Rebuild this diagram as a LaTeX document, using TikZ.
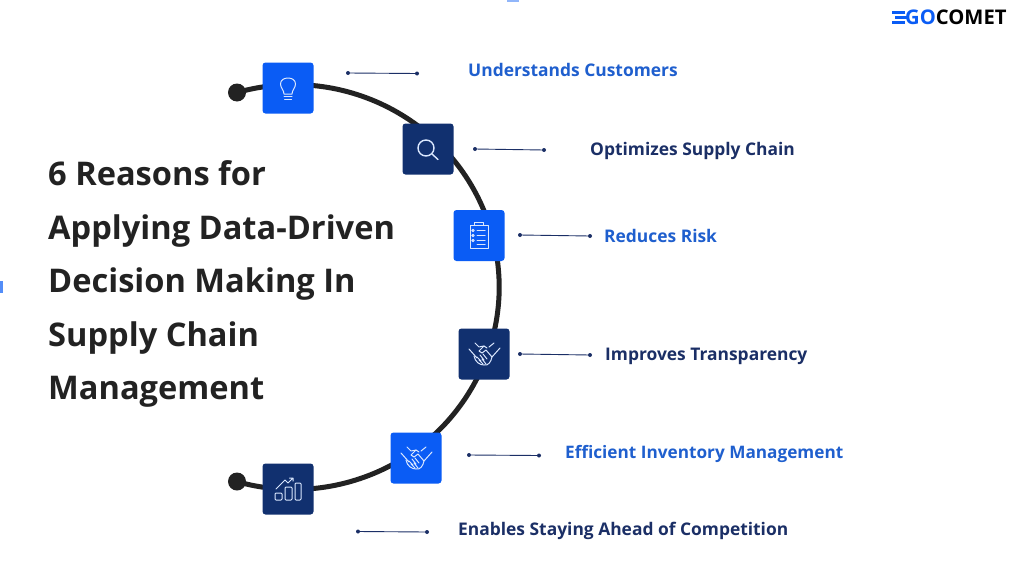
\documentclass[tikz,border=0pt]{standalone}
\usepackage{fontspec}
\setmainfont{Open Sans}
\definecolor{blu}{HTML}{0A5CF5}
\definecolor{nav}{HTML}{11306F}
\definecolor{lblu}{HTML}{1F5FCE}
\definecolor{ldark}{HTML}{1B2F66}
\definecolor{ink}{HTML}{222222}
\tikzset{
 x=1pt,y=-1pt,
 sq/.style={draw=none,minimum size=51pt,inner sep=0pt,rounded corners=3pt},
 sqb/.style={sq,fill=blu},
 sqn/.style={sq,fill=nav},
 ic/.style={draw=white!85!blu,line width=1pt,line join=round,line cap=round},
 dot/.style={circle,fill=ink,minimum size=18pt,inner sep=0pt},
 tick/.style={circle,fill=ldark,minimum size=4pt,inner sep=0pt},
 lead/.style={draw=ldark,line width=0.9pt},
 lab/.style={anchor=base west,font=\fontsize{17.4pt}{19pt}\selectfont\bfseries,inner sep=0pt},
 ttl/.style={anchor=base west,font=\fontsize{32.6pt}{36pt}\selectfont\bfseries,text=ink,inner sep=0pt},
 pics/bulb/.style={code={
  \draw[ic] (-4,6) .. controls (-4,2) and (-7.5,0) .. (-7.5,-4) .. controls (-7.5,-8) and (-4,-10) .. (0,-10) .. controls (4,-10) and (7.5,-8) .. (7.5,-4) .. controls (7.5,0) and (4,2) .. (4,6) -- cycle;
  \draw[ic] (-4,8.5) -- (4,8.5) (-3.5,11) -- (3.5,11);}},
 pics/lens/.style={code={
  \draw[ic,line width=1.4pt] (-2,-1) circle[radius=8];
  \draw[ic,line width=1.4pt] (4,5) -- (10,10.5);}},
 pics/clip/.style={code={
  \draw[ic] (-9,-10) rectangle (9,13);
  \draw[ic] (-4.5,-13) rectangle (4.5,-10);
  \draw[ic] (-2,-5) -- (6,-5) (-2,0) -- (6,0) (-2,5) -- (6,5) (-2,9) -- (6,9);
  \draw[ic] (-6,-5) circle[radius=1.2] (-6,0) circle[radius=1.2] (-6,5) circle[radius=1.2];}},
 pics/shake/.style={code={
  \draw[ic] (-15,-5) -- (-7,4) (16,-6) -- (8,3);
  \draw[ic] (-9,-11) -- (-5,-7) -- (0,-8) -- (3,-6) (10,-11) -- (5,-7);
  \draw[ic] (0,-8) -- (-5,-3) -- (-2,-1) -- (2,-4) -- (8,3) .. controls (7,8) and (4,12) .. (0,11) .. controls (-4,11) and (-9,8) .. (-10,2);
  \draw[ic] (-7,3) -- (-3,7) (-4,1) -- (0,6) (-1,0) -- (3,5) (-5,6) -- (-1,10) (-2,5) -- (2,10);}},
 pics/chart/.style={code={
  \draw[ic,rounded corners=1pt] (-13,4) rectangle (-6,11);
  \draw[ic,rounded corners=1pt] (-3,-2) rectangle (4,11);
  \draw[ic,rounded corners=1pt] (7,-6) rectangle (13,11);
  \draw[ic] (-12,0) -- (-3,-9) -- (0,-6) -- (5,-11) (1.5,-11) -- (5,-11) -- (5,-8);}},
}
\begin{document}
\begin{tikzpicture}
\useasboundingbox[fill=white] (0,0) rectangle (1024,573);
% edge slivers
\fill[blu!70] (0,281) rectangle (2.5,293);
\fill[blu!45] (507,0) rectangle (519,2);
% spine
\node[dot] (top) at (237,92.5) {};
\node[dot] (bot) at (237,481.5) {};
\draw[ink,line width=5pt] (top.center) arc[start angle=-106,end angle=106,x radius=205.5,y radius=202.4];
% icon boxes
\node[sqb] (n1) at (288,88) {};
\node[sqn] (n2) at (428,149) {};
\node[sqb] (n3) at (479,235.5) {};
\node[sqn] (n4) at (484,354) {};
\node[sqb] (n5) at (416,458) {};
\node[sqn] (n6) at (288,489) {};
\pic at (n1) {bulb};
\pic at (n2) {lens};
\pic at (n3) {clip};
\pic at (n4) {shake};
\pic at (n5) {shake};
\pic at (n6) {chart};
% leaders
\node[tick] (a1) at (348,73) {}; \node[tick] (b1) at (417,73.5) {};
\node[tick] (a2) at (475,149) {}; \node[tick] (b2) at (544,150) {};
\node[tick] (a3) at (520,235) {}; \node[tick] (b3) at (590,236) {};
\node[tick] (a4) at (520,354) {}; \node[tick] (b4) at (590,355) {};
\node[tick] (a5) at (469,455) {}; \node[tick] (b5) at (539,455.5) {};
\node[tick] (a6) at (358,531.5) {}; \node[tick] (b6) at (427,532) {};
\foreach \i in {1,...,6} \draw[lead] (a\i) -- (b\i);
% labels
\node[lab,text=lblu] (l1) at (468,76) {Understands Customers};
\node[lab,text=ldark] (l2) at (590,155) {Optimizes Supply Chain};
\node[lab,text=lblu] (l3) at (604,242) {Reduces Risk};
\node[lab,text=ldark] (l4) at (605,360) {Improves Transparency};
\node[lab,text=lblu,font=\fontsize{17.2pt}{19pt}\selectfont\bfseries] (l5) at (565,458) {Efficient Inventory Management};
\node[lab,text=ldark] (l6) at (458,535) {Enables Staying Ahead of Competition};
% title
\node[ttl] (t1) at (48,185) {6 Reasons for};
\node[ttl] (t2) at (48,239) {Applying Data-Driven};
\node[ttl] (t3) at (48,292) {Decision Making In};
\node[ttl] (t4) at (48,346) {Supply Chain};
\node[ttl] (t5) at (48,399) {Management};
% logo
\node[anchor=base west,inner sep=0pt,font=\fontsize{20.2pt}{22pt}\selectfont\bfseries] (logo) at (905,24) {\textcolor{blu}{GO}\textcolor{black}{COMET}};
\draw[blu,line width=2.2pt] (892,12.5) -- (905,12.5) (895,17.5) -- (907,17.5) (892,22.5) -- (905,22.5);
\end{tikzpicture}
\end{document}
